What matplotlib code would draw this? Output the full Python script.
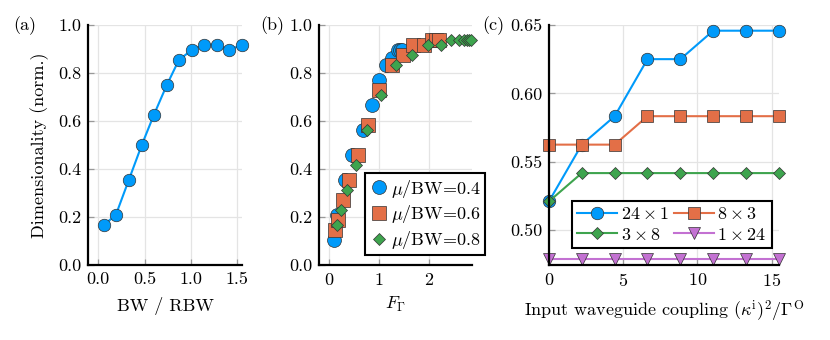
import numpy as np
import matplotlib
matplotlib.use("Agg")
import matplotlib.pyplot as plt

plt.rcParams['font.family'] = ['cmr10', 'DejaVu Serif']
plt.rcParams['mathtext.fontset'] = 'cm'
plt.rcParams['axes.formatter.use_mathtext'] = True
plt.rcParams['font.size'] = 13

blue = "#009AFA"
orange = "#E36F47"
green = "#3EA44E"
purple = "#C371D2"

# (a) dimensionality vs BW/RBW
bw_rbw = [0.06, 0.19, 0.33, 0.47, 0.60, 0.74, 0.87, 1.01, 1.14, 1.28, 1.41, 1.55]
dim_a = [0.167, 0.208, 0.354, 0.500, 0.625, 0.750, 0.854, 0.896, 0.917, 0.917, 0.896, 0.917]

# (b) dimensionality vs F_Gamma for three mu/BW
f_04 = [0.11, 0.17, 0.32, 0.46, 0.69, 0.86, 1.00, 1.14, 1.26, 1.38, 1.42, 1.46]
d_04 = [0.104, 0.208, 0.354, 0.458, 0.563, 0.667, 0.771, 0.833, 0.863, 0.896, 0.896, 0.896]
f_06 = [0.13, 0.19, 0.29, 0.40, 0.58, 0.78, 1.01, 1.27, 1.49, 1.69, 1.91, 2.06, 2.14, 2.20]
d_06 = [0.146, 0.188, 0.271, 0.354, 0.458, 0.583, 0.729, 0.833, 0.875, 0.917, 0.917, 0.938, 0.938, 0.938]
f_08 = [0.17, 0.25, 0.37, 0.54, 0.76, 1.04, 1.34, 1.67, 1.99, 2.25, 2.45, 2.61, 2.71, 2.77, 2.82, 2.85]
d_08 = [0.167, 0.229, 0.313, 0.417, 0.563, 0.708, 0.833, 0.875, 0.917, 0.917, 0.938, 0.938, 0.938, 0.938, 0.938, 0.938]

# (c) dimensionality vs input waveguide coupling
coupling = [0, 2.21, 4.43, 6.64, 8.86, 11.07, 13.29, 15.5]
d_24x1 = [0.521, 0.5625, 0.5833, 0.625, 0.625, 0.6458, 0.6458, 0.6458]
d_8x3 = [0.5625, 0.5625, 0.5625, 0.5833, 0.5833, 0.5833, 0.5833, 0.5833]
d_3x8 = [0.521, 0.5417, 0.5417, 0.5417, 0.5417, 0.5417, 0.5417, 0.5417]
d_1x24 = [0.479, 0.479, 0.479, 0.479, 0.479, 0.479, 0.479, 0.479]

fig = plt.figure(figsize=(8.3, 3.4), dpi=100)
ax_a = fig.add_axes([0.106, 0.2206, 0.1855, 0.706])
ax_b = fig.add_axes([0.3843, 0.2206, 0.1843, 0.706])
ax_c = fig.add_axes([0.6614, 0.2206, 0.2771, 0.706])

def style(ax):
    for s in ["top", "right"]:
        ax.spines[s].set_visible(False)
    for s in ["left", "bottom"]:
        ax.spines[s].set_linewidth(1.6)
        ax.spines[s].set_color("black")
    ax.grid(True, color="#e4e4e4", linewidth=0.9)
    ax.set_axisbelow(True)
    ax.tick_params(direction="in", length=4, width=0.9, color="#999999", labelsize=13, pad=5)

mk = dict(markeredgecolor="#333333", markeredgewidth=0.5, clip_on=False)

# panel a
ax_a.plot(bw_rbw, dim_a, "-o", color=blue, lw=1.5, ms=9, **mk)
ax_a.set_xlim(-0.11, 1.55)
ax_a.set_ylim(0, 1)
ax_a.set_xticks([0.0, 0.5, 1.0, 1.5])
ax_a.set_yticks([0.0, 0.2, 0.4, 0.6, 0.8, 1.0])
ax_a.set_xticklabels(["0.0", "0.5", "1.0", "1.5"])
ax_a.set_yticklabels(["0.0", "0.2", "0.4", "0.6", "0.8", "1.0"])
ax_a.set_xlabel("BW / RBW", labelpad=7)
ax_a.set_ylabel("Dimensionality (norm.)", labelpad=6)
style(ax_a)
fig.text(0.016, 0.925, "(a)", fontsize=13, va="center")

# panel b
ax_b.plot(f_04, d_04, "o", color=blue, ms=10, label=r"$\mu$/BW=0.4", **mk)
ax_b.plot(f_06, d_06, "s", color=orange, ms=9.5, label=r"$\mu$/BW=0.6", **mk)
ax_b.plot(f_08, d_08, "D", color=green, ms=6.5, label=r"$\mu$/BW=0.8", **mk)
ax_b.set_xlim(-0.2, 2.87)
ax_b.set_ylim(0, 1)
ax_b.set_xticks([0, 1, 2])
ax_b.set_yticks([0.0, 0.2, 0.4, 0.6, 0.8, 1.0])
ax_b.set_yticklabels(["0.0", "0.2", "0.4", "0.6", "0.8", "1.0"])
ax_b.set_xlabel(r"$F_\Gamma$", labelpad=5)
style(ax_b)
leg_b = ax_b.legend(loc="lower left", bbox_to_anchor=(0.30, 0.04), frameon=True,
                    fancybox=False, framealpha=1, edgecolor="black", fontsize=13,
                    handletextpad=0.1, handlelength=1.1, borderpad=0.25, labelspacing=0.2,
                    borderaxespad=0)
leg_b.get_frame().set_linewidth(1.5)
fig.text(0.313, 0.925, "(b)", fontsize=13, va="center")

# panel c
h1, = ax_c.plot(coupling, d_24x1, "-o", color=blue, lw=1.5, ms=9, label=r"$24\times1$", **mk)
h2, = ax_c.plot(coupling, d_8x3, "-s", color=orange, lw=1.5, ms=8.5, label=r"$8\times3$", **mk)
h3, = ax_c.plot(coupling, d_3x8, "-D", color=green, lw=1.5, ms=6, label=r"$3\times8$", **mk)
h4, = ax_c.plot(coupling, d_1x24, "-v", color=purple, lw=1.5, ms=8, label=r"$1\times24$", **mk)
ax_c.set_xlim(0, 15.5)
ax_c.set_ylim(0.4745, 0.65)
ax_c.set_xticks([0, 5, 10, 15])
ax_c.set_yticks([0.50, 0.55, 0.60, 0.65])
ax_c.set_yticklabels(["0.50", "0.55", "0.60", "0.65"])
ax_c.set_xlabel(r"Input waveguide coupling $(\kappa^{\mathrm{i}})^2/\Gamma^{\mathrm{O}}$", labelpad=7)
style(ax_c)
leg_c = ax_c.legend([h1, h3, h2, h4], [h1.get_label(), h3.get_label(), h2.get_label(), h4.get_label()],
                    loc="lower left", bbox_to_anchor=(0.10, 0.07), ncol=2, frameon=True,
                    fancybox=False, framealpha=1, edgecolor="black", fontsize=13,
                    handletextpad=0.2, handlelength=2.2, borderpad=0.3, labelspacing=0.25,
                    columnspacing=0.3, borderaxespad=0)
leg_c.get_frame().set_linewidth(1.5)
fig.text(0.581, 0.925, "(c)", fontsize=13, va="center")

fig.savefig("out.png", dpi=100)
